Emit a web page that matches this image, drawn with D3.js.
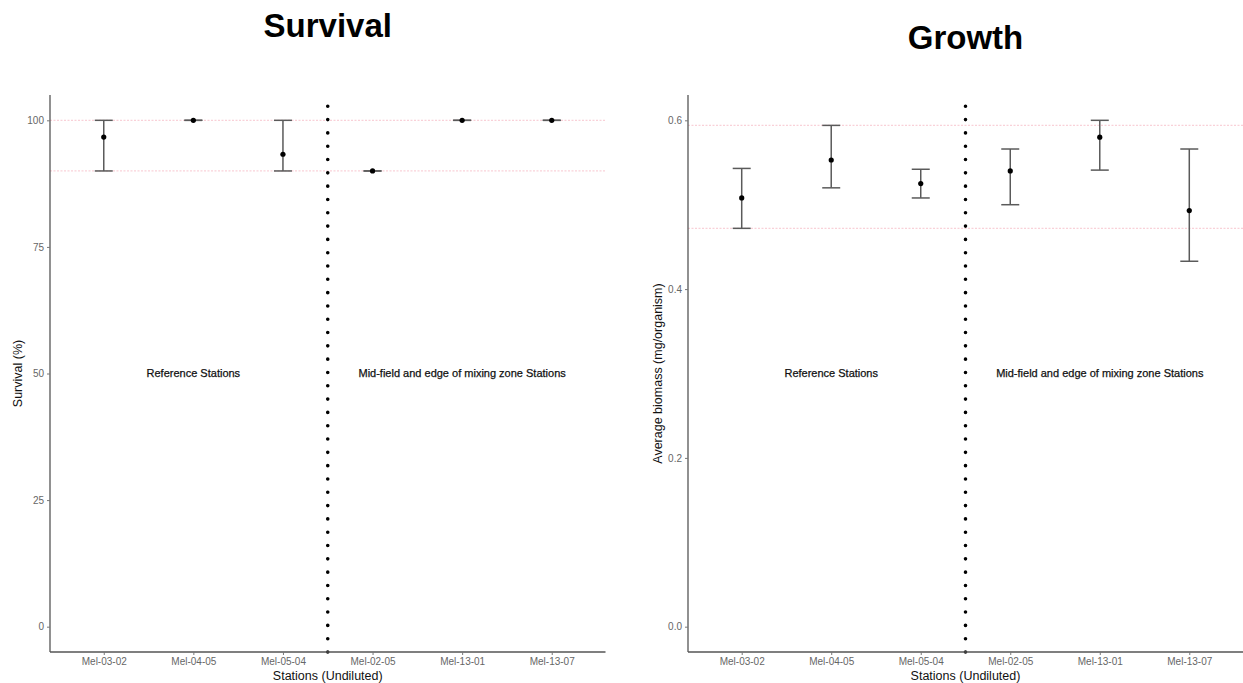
<!DOCTYPE html>
<html>
<head>
<meta charset="utf-8">
<script src="https://cdn.jsdelivr.net/npm/d3@7"></script>
<style>
  body { margin: 0; background: #fff; }
  svg { font-family: "Liberation Sans", Arial, sans-serif; }
</style>
</head>
<body>
<div id="chart"></div>
<script>
// stations (same order in both panels)
const stations = ["Mel-03-02", "Mel-04-05", "Mel-05-04", "Mel-02-05", "Mel-13-01", "Mel-13-07"];

// survival (%): mean, lower, upper
const survivalMean = [96.7, 100, 93.3, 90, 100, 100];
const survivalLow  = [90, 100, 90, 90, 100, 100];
const survivalHigh = [100, 100, 100, 90, 100, 100];
const survivalRefLines = [100, 90];
const survivalTicks = [0, 25, 50, 75, 100];

// growth (mg/organism): mean, lower, upper
const growthMean = [0.508, 0.553, 0.525, 0.540, 0.580, 0.493];
const growthLow  = [0.472, 0.520, 0.508, 0.500, 0.541, 0.433];
const growthHigh = [0.543, 0.594, 0.542, 0.566, 0.600, 0.566];
const growthRefLines = [0.594, 0.472];
const growthTicks = [0.0, 0.2, 0.4, 0.6];

const groupLabels = ["Reference Stations", "Mid-field and edge of mixing zone Stations"];

const width = 1243, height = 683;
const svg = d3.select("#chart").append("svg")
    .attr("width", width)
    .attr("height", height);

function drawPanel(opts) {
    const x = d3.scalePoint()
        .domain(stations)
        .range([opts.left, opts.right])
        .padding(0.6);
    const y = d3.scaleLinear()
        .domain(opts.yDomain)
        .range([652, 95]);

    const g = svg.append("g");

    // title
    g.append("text")
        .attr("x", (opts.left + opts.right) / 2)
        .attr("y", opts.titleY)
        .attr("text-anchor", "middle")
        .attr("font-size", 33)
        .attr("font-weight", "bold")
        .attr("fill", "#000")
        .text(opts.title);

    // reference lines
    g.append("g")
        .selectAll("line")
        .data(opts.refLines)
        .join("line")
        .attr("x1", opts.left)
        .attr("x2", opts.right)
        .attr("y1", d => y(d))
        .attr("y2", d => y(d))
        .attr("stroke", "#f29aa8")
        .attr("stroke-opacity", 0.45)
        .attr("stroke-width", 1.3)
        .attr("stroke-dasharray", "2,1.5");

    // divider between groups
    const step = x.step();
    const divX = x(stations[2]) + step / 2;
    g.append("line")
        .attr("x1", divX).attr("x2", divX)
        .attr("y1", 652).attr("y2", 95)
        .attr("stroke", "#000")
        .attr("stroke-width", 3.6)
        .attr("stroke-linecap", "round")
        .attr("stroke-dasharray", "0.01,13.3");

    // error bars
    const rows = stations.map((s, i) => ({
        s, mean: opts.mean[i], lo: opts.low[i], hi: opts.high[i]
    }));
    const bars = g.append("g")
        .attr("stroke", "#5a5a5a")
        .attr("stroke-width", 1.5);
    bars.selectAll("line.v")
        .data(rows)
        .join("line")
        .attr("class", "v")
        .attr("x1", d => x(d.s)).attr("x2", d => x(d.s))
        .attr("y1", d => y(d.lo)).attr("y2", d => y(d.hi));
    bars.selectAll("line.top")
        .data(rows)
        .join("line")
        .attr("class", "top")
        .attr("x1", d => x(d.s) - 9).attr("x2", d => x(d.s) + 9)
        .attr("y1", d => y(d.hi)).attr("y2", d => y(d.hi));
    bars.selectAll("line.bot")
        .data(rows)
        .join("line")
        .attr("class", "bot")
        .attr("x1", d => x(d.s) - 9).attr("x2", d => x(d.s) + 9)
        .attr("y1", d => y(d.lo)).attr("y2", d => y(d.lo));

    g.append("g")
        .selectAll("circle")
        .data(rows)
        .join("circle")
        .attr("cx", d => x(d.s))
        .attr("cy", d => y(d.mean))
        .attr("r", 2.6)
        .attr("fill", "#000");

    // group annotations
    g.append("g")
        .selectAll("text")
        .data(groupLabels)
        .join("text")
        .attr("x", (d, i) => x(stations[i === 0 ? 1 : 4]))
        .attr("y", y(opts.labelY))
        .attr("dy", "0.35em")
        .attr("text-anchor", "middle")
        .attr("font-size", 11)
        .attr("fill", "#111")
        .attr("stroke", "#111")
        .attr("stroke-width", 0.25)
        .text(d => d);

    // axes
    const xAxis = g.append("g")
        .attr("transform", "translate(0,652)")
        .call(d3.axisBottom(x).tickSize(3).tickPadding(3));
    const yAxis = g.append("g")
        .attr("transform", `translate(${opts.left},0)`)
        .call(d3.axisLeft(y).tickValues(opts.ticks).tickFormat(opts.fmt).tickSize(3).tickPadding(3));
    [xAxis, yAxis].forEach(a => {
        a.select(".domain").attr("stroke", "#555").attr("stroke-width", 1.3)
            .attr("d", a === xAxis ? `M${opts.left},0H${opts.right}` : `M0,652V95`);
        a.selectAll(".tick line").attr("stroke", "#777");
        a.selectAll(".tick text").attr("fill", "#666").attr("font-size", 10)
            .attr("font-family", "Liberation Sans, Arial, sans-serif");
    });

    // axis titles
    g.append("text")
        .attr("x", divX)
        .attr("y", 680)
        .attr("text-anchor", "middle")
        .attr("font-size", 12.5)
        .attr("fill", "#111")
        .text("Stations (Undiluted)");
    g.append("text")
        .attr("transform", `translate(${opts.left - opts.yTitleOffset},${(95 + 652) / 2}) rotate(-90)`)
        .attr("text-anchor", "middle")
        .attr("font-size", 12.5)
        .attr("fill", "#111")
        .text(opts.yTitle);
}

drawPanel({
    title: "Survival", titleY: 37,
    left: 50, right: 605.5,
    yDomain: [-5, 105], ticks: survivalTicks, fmt: d3.format("d"),
    mean: survivalMean, low: survivalLow, high: survivalHigh,
    refLines: survivalRefLines, labelY: 50,
    yTitle: "Survival (%)", yTitleOffset: 28
});

drawPanel({
    title: "Growth", titleY: 49,
    left: 688, right: 1243,
    yDomain: [-0.03, 0.63], ticks: growthTicks, fmt: d3.format(".1f"),
    mean: growthMean, low: growthLow, high: growthHigh,
    refLines: growthRefLines, labelY: 0.3,
    yTitle: "Average biomass (mg/organism)", yTitleOffset: 26
});
</script>
</body>
</html>
